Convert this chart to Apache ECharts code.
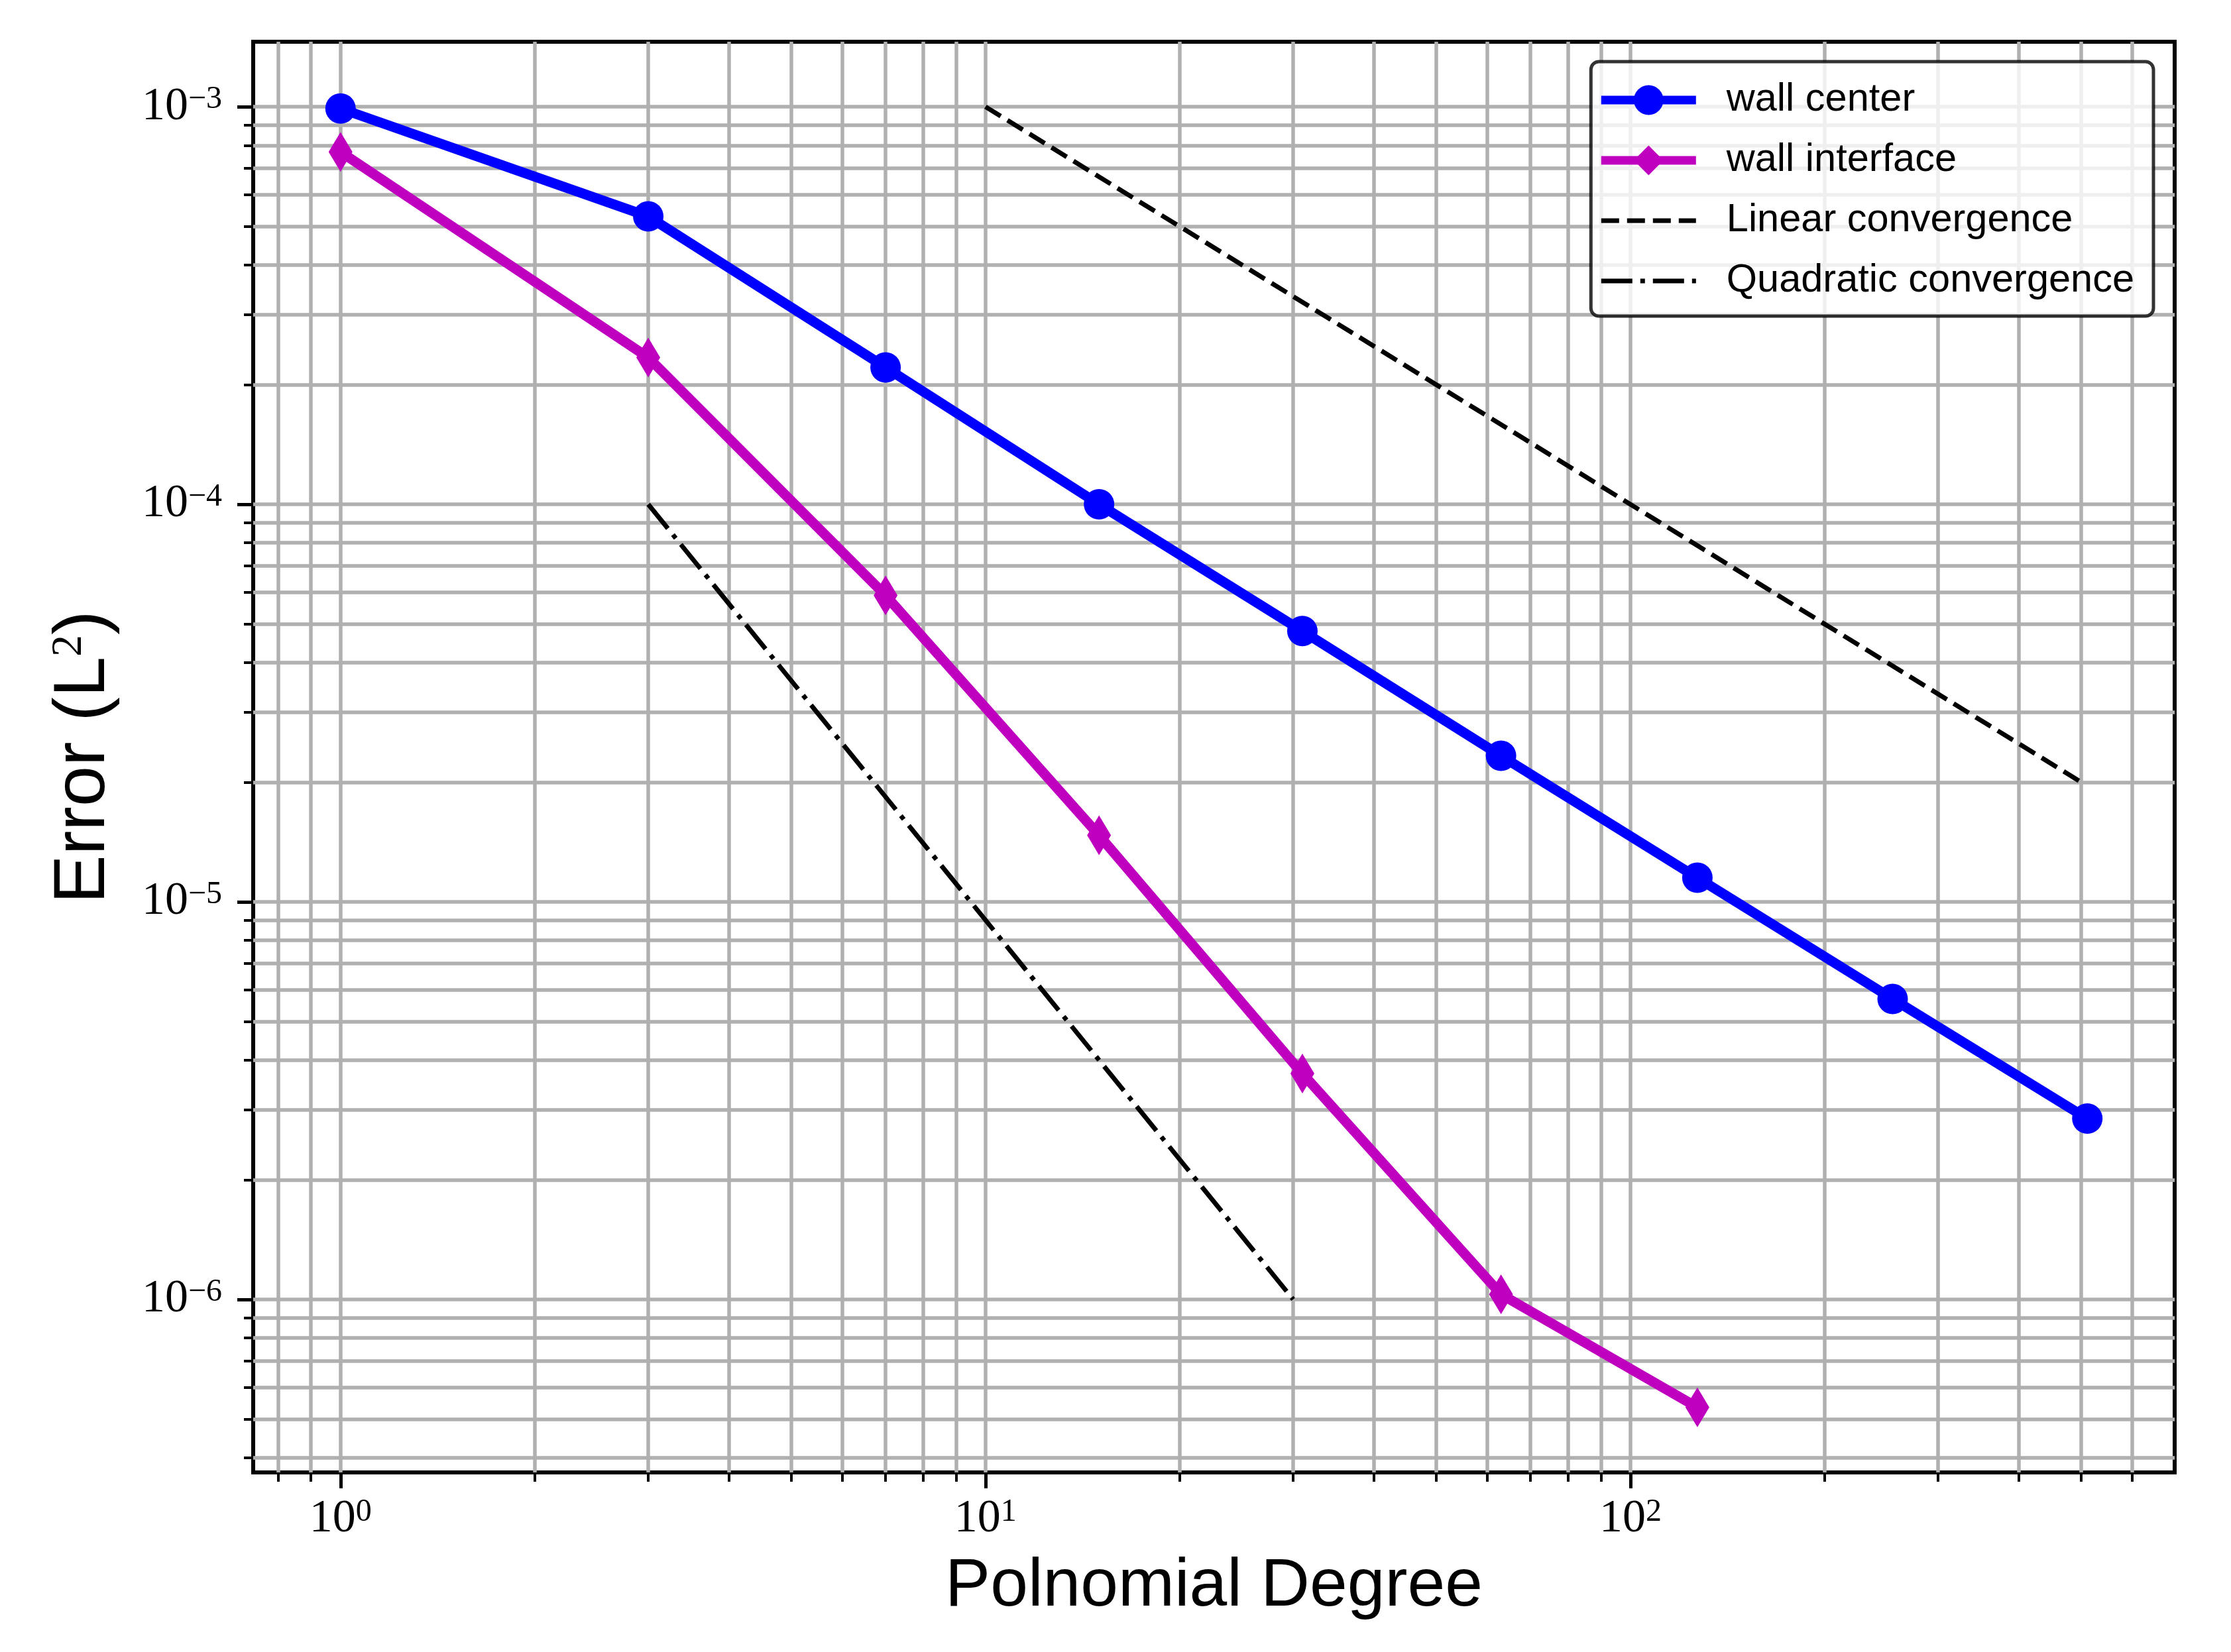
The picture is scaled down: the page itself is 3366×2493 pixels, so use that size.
<!DOCTYPE html>
<html>
<head>
<meta charset="utf-8">
<script src="https://cdn.jsdelivr.net/npm/echarts@6/dist/echarts.min.js"></script>
<style>
  html, body { margin: 0; padding: 0; background: #fff; }
  #chart { width: 3366px; height: 2493px; }
</style>
</head>
<body>
<div id="chart"></div>
<script>
// measured data
var degrees = [1, 3, 7, 15, 31, 63, 127, 255, 511];
var wallCenter = [9.9e-4, 5.3e-4, 2.21e-4, 1.0e-4, 4.8e-5, 2.33e-5, 1.15e-5, 5.7e-6, 2.85e-6];
var interfaceDegrees = [1, 3, 7, 15, 31, 63, 127];
var wallInterface = [7.7e-4, 2.34e-4, 5.9e-5, 1.47e-5, 3.7e-6, 1.03e-6, 5.35e-7];
var linearX = [10, 500];
var linearY = [1e-3, 2e-5];
var quadX = [3, 30];
var quadY = [1e-4, 1e-6];

// tick values
var xMajorTicks = [1, 10, 100];
var yMajorTicks = [1e-6, 1e-5, 1e-4, 1e-3];
var minorMantissas = [2, 3, 4, 5, 6, 7, 8, 9];
var xDecades = [0.1, 1, 10, 100];
var yDecades = [1e-7, 1e-6, 1e-5, 1e-4];

function minorTicks(decades) {
  var out = [];
  decades.forEach(function (d) {
    minorMantissas.forEach(function (m) { out.push(d * m); });
  });
  return out;
}

function zip(xs, ys) {
  return xs.map(function (x, i) { return [x, ys[i]]; });
}

// matplotlib-like 5% margin in log space
function logPad(values) {
  var lo = Math.log10(Math.min.apply(null, values));
  var hi = Math.log10(Math.max.apply(null, values));
  var m = (hi - lo) * 0.05;
  return [Math.pow(10, lo - m), Math.pow(10, hi + m)];
}

var xRange = logPad(degrees.concat(interfaceDegrees, linearX, quadX));
var yRange = logPad(wallCenter.concat(wallInterface, linearY, quadY));

var serif = 'Liberation Serif';
var sans = 'Liberation Sans';

function powLabel(v) {
  var e = Math.round(Math.log10(v));
  return '{b|10}{s|' + (e < 0 ? '\u2212' + (-e) : e) + '}';
}
var powRich = {
  b: { fontFamily: serif, fontSize: 70, lineHeight: 70, color: '#000' },
  s: { fontFamily: serif, fontSize: 48, lineHeight: 38, verticalAlign: 'top', color: '#000' }
};

var gridLine = { show: true, lineStyle: { color: '#b0b0b0', width: 5.5 } };
var noMarker = { opacity: 0, color: 'transparent' };

var chart = echarts.init(document.getElementById('chart'));
chart.setOption({
  animation: false,
  backgroundColor: '#fff',
  grid: {
    left: 382, right: 85, top: 63, bottom: 271,
    show: true, borderColor: '#000', borderWidth: 6,
    outerBoundsMode: 'none'
  },
  legend: {
    orient: 'vertical',
    right: 117, top: 93,
    align: 'left',
    itemWidth: 143, itemHeight: 56, itemGap: 31,
    padding: [28, 29, 23, 9],
    backgroundColor: 'rgba(255,255,255,0.8)',
    borderColor: 'rgba(0,0,0,0.8)',
    borderWidth: 5,
    borderRadius: 12,
    selectedMode: false,
    textStyle: { fontFamily: sans, fontSize: 59.5, color: '#000', padding: [0, 0, 0, 41] },
    data: [
      { name: 'wall center', lineStyle: { width: 13 } },
      { name: 'wall interface', lineStyle: { width: 13 } },
      { name: 'Linear convergence', lineStyle: { width: 7 }, itemStyle: noMarker },
      { name: 'Quadratic convergence', lineStyle: { width: 7 }, itemStyle: noMarker }
    ]
  },
  xAxis: [
    {
      type: 'log', logBase: 10, gridIndex: 0, position: 'bottom',
      min: xRange[0], max: xRange[1],
      name: 'Polnomial Degree', nameLocation: 'middle', nameGap: 122,
      nameTextStyle: { fontFamily: sans, fontSize: 102, color: '#000' },
      axisLine: { show: false },
      axisTick: { show: true, length: 24, customValues: xMajorTicks, lineStyle: { color: '#000', width: 5 } },
      axisLabel: { show: true, margin: 36, customValues: xMajorTicks, formatter: powLabel, rich: powRich },
      splitLine: gridLine
    },
    {
      type: 'log', logBase: 10, gridIndex: 0, position: 'bottom',
      min: xRange[0], max: xRange[1],
      axisLine: { show: false },
      axisTick: { show: true, length: 14, customValues: minorTicks(xDecades), lineStyle: { color: '#000', width: 4 } },
      axisLabel: { show: false },
      splitLine: gridLine
    }
  ],
  yAxis: [
    {
      type: 'log', logBase: 10, gridIndex: 0, position: 'left',
      min: yRange[0], max: yRange[1],
      name: '{t|Error (L}{s|2}{t|)}', nameLocation: 'middle', nameGap: 200,
      nameTextStyle: {
        rich: {
          t: { fontFamily: sans, fontSize: 110, color: '#000' },
          s: { fontFamily: serif, fontSize: 66, color: '#000', verticalAlign: 'top', lineHeight: 54 }
        }
      },
      axisLine: { show: false },
      axisTick: { show: true, length: 24, customValues: yMajorTicks, lineStyle: { color: '#000', width: 5 } },
      axisLabel: { show: true, margin: 47, customValues: yMajorTicks, formatter: powLabel, rich: powRich },
      splitLine: gridLine
    },
    {
      type: 'log', logBase: 10, gridIndex: 0, position: 'left',
      min: yRange[0], max: yRange[1],
      axisLine: { show: false },
      axisTick: { show: true, length: 14, customValues: minorTicks(yDecades), lineStyle: { color: '#000', width: 4 } },
      axisLabel: { show: false },
      splitLine: gridLine
    }
  ],
  series: [
    {
      name: 'wall center', type: 'line', xAxisIndex: 0, yAxisIndex: 0,
      data: zip(degrees, wallCenter),
      symbol: 'circle', symbolSize: 46,
      lineStyle: { color: '#0000ff', width: 15 },
      itemStyle: { color: '#0000ff' },
      z: 4
    },
    {
      name: 'wall interface', type: 'line', xAxisIndex: 0, yAxisIndex: 0,
      data: zip(interfaceDegrees, wallInterface),
      symbol: 'diamond', symbolSize: [36, 60],
      lineStyle: { color: '#bf00bf', width: 15 },
      itemStyle: { color: '#bf00bf' },
      z: 4
    },
    {
      name: 'Linear convergence', type: 'line', xAxisIndex: 0, yAxisIndex: 0,
      data: zip(linearX, linearY),
      symbol: 'none',
      lineStyle: { color: '#000', width: 7, type: [27, 12] },
      itemStyle: { color: '#000' },
      z: 3
    },
    {
      name: 'Quadratic convergence', type: 'line', xAxisIndex: 0, yAxisIndex: 0,
      data: zip(quadX, quadY),
      symbol: 'none',
      lineStyle: { color: '#000', width: 7, type: [47, 12, 7, 12] },
      itemStyle: { color: '#000' },
      z: 3
    }
  ]
});
</script>
</body>
</html>
